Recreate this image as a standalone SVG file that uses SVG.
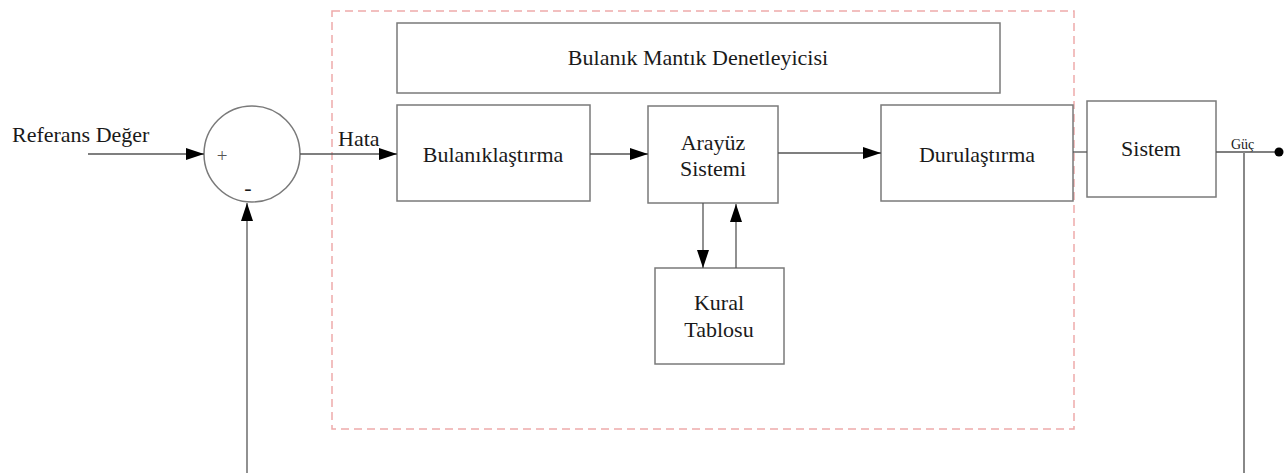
<svg xmlns="http://www.w3.org/2000/svg" width="1286" height="473" viewBox="0 0 1286 473">
<style>
.box{fill:#fff;stroke:#7a7a7a;stroke-width:1.5}
.ln{stroke:#555;stroke-width:1.3;fill:none}
.t{font-family:"Liberation Serif","Times New Roman",serif;font-size:22px;fill:#1a1a1a;text-anchor:middle}
.s{text-anchor:start}
</style>
<defs>
<marker id="ah" viewBox="0 0 18 12" refX="18" refY="6" markerWidth="18" markerHeight="12" markerUnits="userSpaceOnUse" orient="auto">
<path d="M0,0 L18,6 L0,12 Z" fill="#000"/>
</marker>
</defs>
<rect width="1286" height="473" fill="#fff"/>
<rect id="frame" x="332" y="11" width="742" height="418" fill="none" stroke="#eeaaaa" stroke-width="1.5" stroke-dasharray="8,5"/>
<g id="controller"><rect class="box" x="397" y="23" width="603" height="70"/><text class="t" x="698" y="65">Bulanık Mantık Denetleyicisi</text></g>
<g id="sum"><circle class="box" cx="252" cy="154" r="48"/><text class="t" x="222" y="162" style="font-size:19px;fill:#555">+</text><text class="t" x="248" y="195" style="font-size:22px">-</text></g>
<g id="fuzz"><rect class="box" x="397" y="105" width="193" height="96"/><text class="t" x="493" y="162">Bulanıklaştırma</text></g>
<g id="inference"><rect class="box" x="648" y="106" width="130" height="97"/><text class="t" x="713" y="150">Arayüz</text><text class="t" x="713" y="176">Sistemi</text></g>
<g id="defuzz"><rect class="box" x="881" y="105" width="192" height="96"/><text class="t" x="977" y="162">Durulaştırma</text></g>
<g id="rules"><rect class="box" x="655" y="268" width="129" height="96"/><text class="t" x="719" y="310">Kural</text><text class="t" x="719" y="337">Tablosu</text></g>
<g id="system"><rect class="box" x="1087" y="101" width="129" height="96"/><text class="t" x="1151" y="156">Sistem</text></g>
<g id="labels">
<text class="t s" x="12" y="142" style="font-size:22px">Referans Değer</text>
<text class="t s" x="338" y="146">Hata</text>
<text class="t s" x="1231" y="149" style="font-size:14px">Güç</text>
</g>
<g id="connectors">
<line class="ln" x1="88" y1="154" x2="204" y2="154" marker-end="url(#ah)"/>
<line class="ln" x1="300" y1="154" x2="397" y2="154" marker-end="url(#ah)"/>
<line class="ln" x1="247" y1="473" x2="247" y2="203" marker-end="url(#ah)"/>
<line class="ln" x1="590" y1="154" x2="648" y2="154" marker-end="url(#ah)"/>
<line class="ln" x1="778" y1="153" x2="881" y2="153" marker-end="url(#ah)"/>
<line class="ln" x1="703" y1="203" x2="703" y2="268" marker-end="url(#ah)"/>
<line class="ln" x1="736" y1="268" x2="736" y2="204" marker-end="url(#ah)"/>
<line class="ln" x1="1073" y1="152" x2="1087" y2="152"/>
<line class="ln" x1="1216" y1="152" x2="1279" y2="152"/>
<line class="ln" x1="1244" y1="152" x2="1244" y2="473" style="stroke:#888;stroke-width:2"/>
<circle cx="1279" cy="152" r="4.5" fill="#000"/>
</g>
</svg>
